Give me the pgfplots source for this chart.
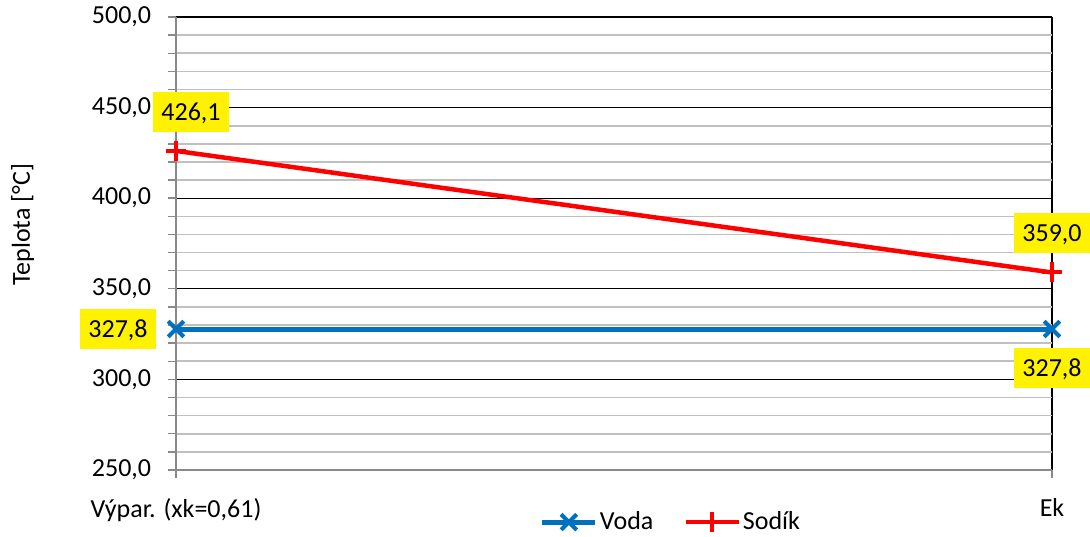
\documentclass[border=0pt]{standalone}
\usepackage{pgfplots}
\pgfplotsset{compat=1.18}
\usepackage{fontspec}
\setmainfont{Carlito}
\definecolor{vodablue}{HTML}{0070C0}
\definecolor{gridgray}{HTML}{C0C0C0}
\definecolor{axgray}{HTML}{898989}
\begin{document}
\begin{tikzpicture}
\fontsize{26bp}{31bp}\selectfont
\useasboundingbox (0,0) rectangle (1090bp,537bp);
\begin{axis}[
  at={(176bp,67bp)}, anchor=south west,
  scale only axis, width=876bp, height=453bp,
  xmin=0, xmax=1, ymin=250, ymax=500,
  xtick={0,1}, xticklabels={{Výpar. (xk=0,61)},{Ek}},
  ytick={250,300,...,500},
  minor y tick num=4,
  ymajorgrids, yminorgrids, xmajorgrids,
  major grid style={black, line width=1.3bp},
  minor grid style={gridgray, line width=1.6bp},
  axis x line*=bottom, axis y line*=left,
  axis line style={axgray, line width=1.6bp, -},
  tick align=outside,
  major tick length=8bp, minor tick length=8bp,
  every tick/.style={axgray, line width=1.4bp},
  tick label style={font=\fontsize{26bp}{31bp}\selectfont},
  yticklabel style={xshift=-8bp},
  xticklabel style={yshift=-12bp},
  /pgf/number format/.cd, fixed, fixed zerofill, precision=1, use comma, assume math mode=true,
  /pgfplots/.cd,
  every axis y label/.style={at={(axis description cs:-0.175,0.541)}, rotate=90, anchor=center},
  ylabel={Teplota [°C]},
  label style={font=\fontsize{26bp}{31bp}\selectfont},
  clip=false,
  legend columns=2,
  legend style={at={(axis description cs:0.565,-0.115)}, anchor=center, draw=none, fill=none,
    font=\fontsize{26bp}{31bp}\selectfont, /tikz/every even column/.append style={column sep=28bp},
    inner sep=0pt},
  legend image code/.code={\draw[mark repeat=2,mark phase=2,#1] plot coordinates {(0bp,0bp)(26.5bp,0bp)(53bp,0bp)};},
]
\addplot[vodablue, line width=5bp, mark=x, mark size=11bp, mark options={line width=4bp}]
  coordinates {(0,327.8) (1,327.8)};
\addlegendentry{Voda}
\addplot[red, line width=4.5bp, mark=+, mark size=10bp, mark options={line width=4bp}]
  coordinates {(0,426.1) (1,359.0)};
\addlegendentry{Sodík}
\tikzset{lbl/.style={fill=yellow, inner xsep=8bp, inner ysep=0bp, minimum height=40bp, text height=18bp, text depth=1bp, font=\fontsize{26bp}{31bp}\selectfont}}
\node[lbl] at ([shift={(15bp,39bp)}]axis cs:0,426.1) {426,1};
\node[lbl] at ([shift={(0bp,39.5bp)}]axis cs:1,359.0) {359,0};
\node[lbl] at ([shift={(-58bp,0bp)}]axis cs:0,327.8) {327,8};
\node[lbl] at ([shift={(0bp,-39bp)}]axis cs:1,327.8) {327,8};
\end{axis}
\end{tikzpicture}
\end{document}
